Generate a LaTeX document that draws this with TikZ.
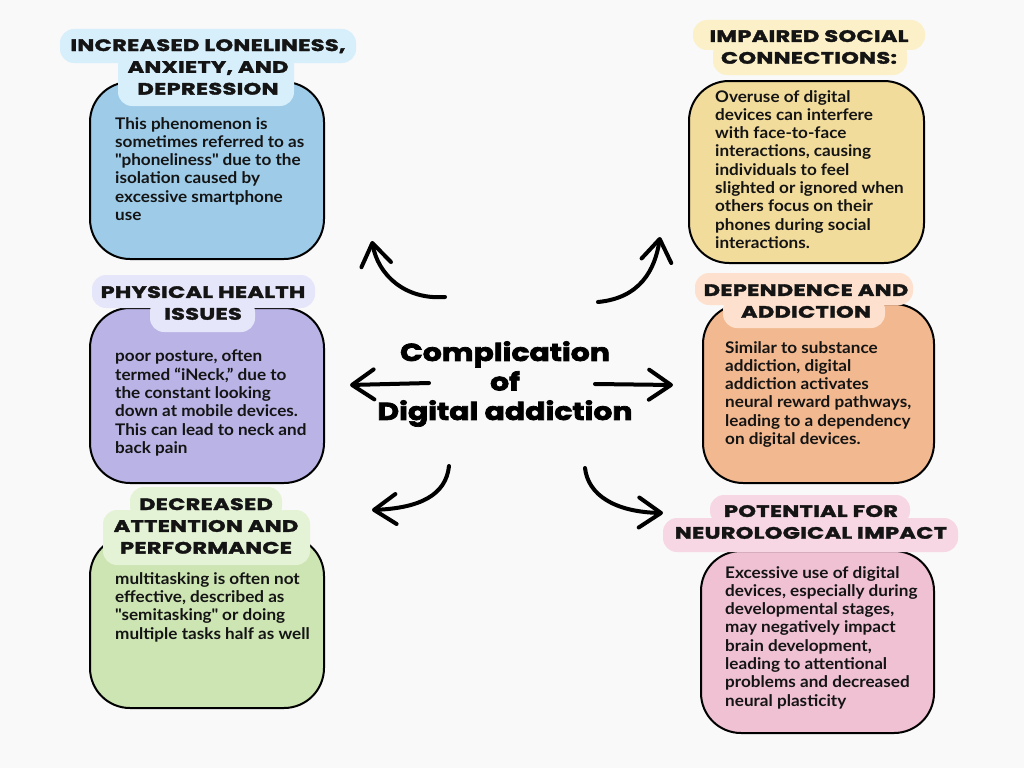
\documentclass[tikz,border=0pt]{standalone}
\usepackage{fontspec}
\setmainfont{Lato}
\newfontfamily\bodyfont{Lato}[FakeStretch=1.07]
\newfontfamily\headfont{Poppins}[FakeStretch=1.36, LetterSpace=2, BoldFeatures={FakeBold=2.2}]
\newfontfamily\titlefont{Poppins}[FakeStretch=1.22, BoldFeatures={FakeBold=3}]
\usetikzlibrary{arrows.meta}
\definecolor{bgc}{HTML}{F9F9F9}
\definecolor{txt}{HTML}{141414}
\definecolor{blueBox}{HTML}{9DCBE8}\definecolor{blueTag}{HTML}{D7EEFB}
\definecolor{yelBox}{HTML}{F2DC9C}\definecolor{yelTag}{HTML}{FCF0C8}
\definecolor{purBox}{HTML}{B9B3E6}\definecolor{purTag}{HTML}{E6E6FB}
\definecolor{oraBox}{HTML}{F2B88F}\definecolor{oraTag}{HTML}{FDE1CE}
\definecolor{grnBox}{HTML}{CDE4B3}\definecolor{grnTag}{HTML}{E4F3D6}
\definecolor{pnkBox}{HTML}{EFC1D3}\definecolor{pnkTag}{HTML}{F7D7E3}
\tikzset{
  card/.style={draw=black, line width=2, rounded corners=40, anchor=north west, inner sep=0},
  tagshape/.style={rounded corners=14},
  bodytext/.style={anchor=north west, align=left, inner sep=0, text=txt,
    font=\bodyfont\bfseries\fontsize{16}{18.3}\selectfont},
  headtext/.style={align=center, inner sep=0, text=txt,
    font=\headfont\bfseries\fontsize{16.5}{21.8}\selectfont},
  arr/.style={line width=4, line cap=round, line join=round,
    -{Straight Barb[length=22,width=30,line cap=round,line join=round]}},
}
\begin{document}
\begin{tikzpicture}[x=1pt,y=-1pt]
\useasboundingbox (0,0) rectangle (1024,768);
\fill[bgc] (0,0) rectangle (1024,768);

% ---------- cards ----------
\node[card, fill=blueBox, minimum width=234, minimum height=177] (c1) at (89,81) {};
\node[card, fill=yelBox, minimum width=235, minimum height=182] (c2) at (688,80) {};
\node[card, fill=purBox, minimum width=234, minimum height=175] (c3) at (89,307) {};
\node[card, fill=oraBox, minimum width=231, minimum height=179] (c4) at (702,303) {};
\node[card, fill=grnBox, minimum width=234, minimum height=172] (c5) at (89,535) {};
\node[card, fill=pnkBox, minimum width=233, minimum height=182] (c6) at (700,550) {};

% ---------- tags ----------
\fill[blueTag, tagshape] (60,29) rectangle (356,63);
\fill[blueTag, tagshape] (118,50) rectangle (294,106);
\fill[yelTag, tagshape] (693,20) rectangle (925,50);
\fill[yelTag, tagshape] (713,40) rectangle (907,75);
\fill[purTag, tagshape] (92,275) rectangle (315,308);
\fill[purTag, tagshape] (150,298) rectangle (255,332);
\fill[oraTag, tagshape] (695,273) rectangle (913,305);
\fill[oraTag, tagshape] (723,296) rectangle (885,328);
\fill[grnTag, tagshape] (130,487) rectangle (282,520);
\fill[grnTag, tagshape] (103,510) rectangle (310,565);
\fill[pnkTag, tagshape] (710,495) rectangle (910,525);
\fill[pnkTag, tagshape] (663,518) rectangle (958,552);

% ---------- headings ----------
\node[headtext] (h1) at (208,67) {INCREASED LONELINESS,\\ANXIETY, AND\\DEPRESSION};
\node[headtext] (h2) at (809,47) {IMPAIRED SOCIAL\\CONNECTIONS:};
\node[headtext] (h3) at (203,303) {PHYSICAL HEALTH\\ISSUES};
\node[headtext] (h4) at (806,301) {DEPENDENCE AND\\ADDICTION};
\node[headtext] (h5) at (206,526) {DECREASED\\ATTENTION AND\\PERFORMANCE};
\node[headtext] (h6) at (811,522) {POTENTIAL FOR\\NEUROLOGICAL IMPACT};

% ---------- body texts ----------
\node[bodytext] (b1) at (115,117) {This phenomenon is\\sometimes referred to as\\\textquotedbl phoneliness\textquotedbl\ due to the\\isolation caused by\\excessive smartphone\\use};
\node[bodytext] (b2) at (715,90) {Overuse of digital\\devices can interfere\\with face-to-face\\interactions, causing\\individuals to feel\\slighted or ignored when\\others focus on their\\phones during social\\interactions.};
\node[bodytext] (b3) at (115,350) {poor posture, often\\termed “iNeck,” due to\\the constant looking\\down at mobile devices.\\This can lead to neck and\\back pain};
\node[bodytext] (b4) at (725,341) {Similar to substance\\addiction, digital\\addiction activates\\neural reward pathways,\\leading to a dependency\\on digital devices.};
\node[bodytext] (b5) at (115,572) {multitasking is often not\\effective, described as\\\textquotedbl semitasking\textquotedbl\ or doing\\multiple tasks half as well};
\node[bodytext] (b6) at (725,566) {Excessive use of digital\\devices, especially during\\developmental stages,\\may negatively impact\\brain development,\\leading to attentional\\problems and decreased\\neural plasticity};

% ---------- title ----------
\node[align=center, inner sep=0, text=black,
  font=\titlefont\bfseries\fontsize{24.5}{29.5}\selectfont] (title) at (505,384)
  {Complication\\of\\Digital addiction};

% ---------- arrows ----------
\coordinate (a1s) at (445,297); \coordinate (a1e) at (372,241);
\coordinate (a2s) at (598,302); \coordinate (a2e) at (660,237);
\coordinate (a3s) at (429,383); \coordinate (a3e) at (350,385);
\coordinate (a4s) at (595,384); \coordinate (a4e) at (673,385);
\coordinate (a5s) at (449,466); \coordinate (a5e) at (372,510);
\coordinate (a6s) at (585,468); \coordinate (a6e) at (663,513);
\draw[arr] (a1s) .. controls (405,300) and (378,275) .. (a1e);
\draw[arr] (a2s) .. controls (640,298) and (655,270) .. (a2e);
\draw[arr] (a3s) -- (a3e);
\draw[arr] (a4s) -- (a4e);
\draw[arr] (a5s) .. controls (446,495) and (420,508) .. (a5e);
\draw[arr] (a6s) .. controls (588,495) and (615,512) .. (a6e);
\end{tikzpicture}
\end{document}
